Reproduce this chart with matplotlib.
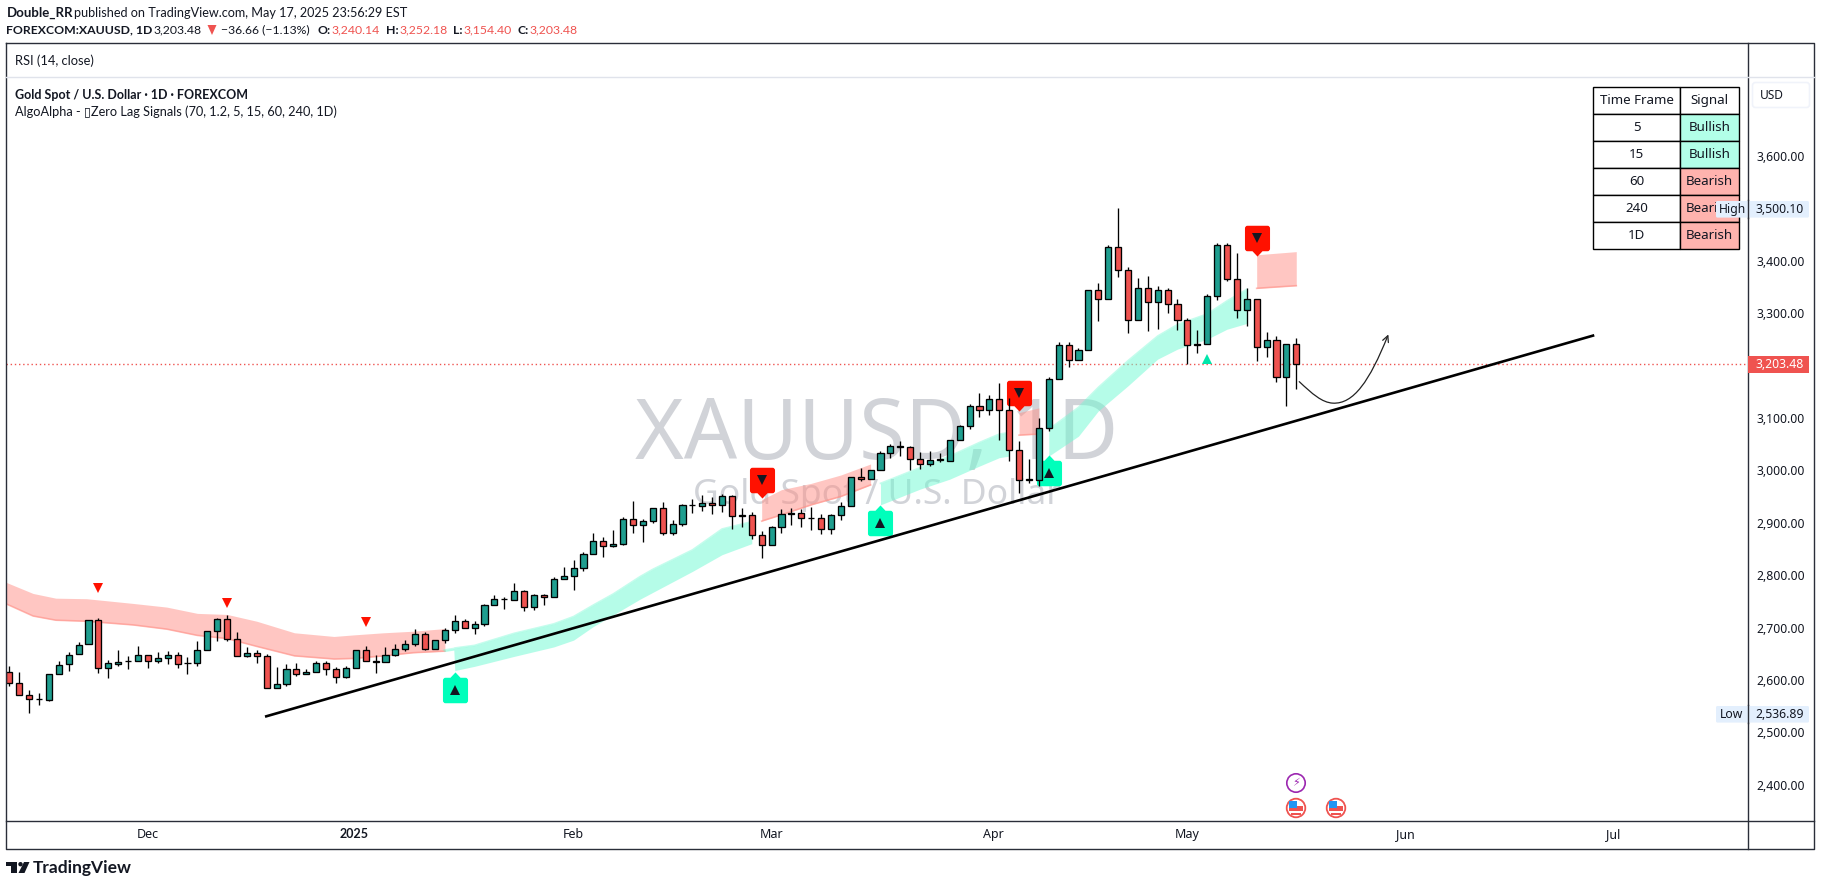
# Gold daily chart, redrawn from a published TradingView screenshot
import matplotlib
matplotlib.use("Agg")
from matplotlib import pyplot as plt
from matplotlib.patches import Rectangle, Circle, FancyBboxPatch, FancyArrowPatch, Polygon
from matplotlib.path import Path

plt.rcParams['font.family'] = ['Noto Sans', 'DejaVu Sans']
HEAD_FONT = ['Lato', 'DejaVu Sans']

###### Candles, trading days in order ######
opens = [2616, 2595, 2571, 2563, 2561, 2611, 2630, 2649, 2668, 2714,
         2622, 2631, 2636, 2636, 2648, 2637, 2641, 2647, 2632, 2632,
         2658, 2693, 2716, 2679, 2645, 2651, 2645, 2584, 2592, 2620,
         2611, 2615, 2632, 2620, 2605, 2622, 2657, 2637, 2634, 2647,
         2660, 2668, 2687, 2660, 2676, 2695, 2712, 2700, 2706, 2743,
         2754, 2752, 2769, 2739, 2762, 2758, 2792, 2798, 2813, 2840,
         2865, 2855, 2859, 2907, 2895, 2903, 2928, 2880, 2897, 2933,
         2931, 2937, 2933, 2951, 2913, 2914, 2876, 2857, 2891, 2917,
         2918, 2909, 2909, 2888, 2914, 2931, 2987, 2983, 3000, 3033,
         3045, 3045, 3022, 3011, 3020, 3018, 3057, 3085, 3123, 3114,
         3135, 3114, 3038, 2982, 2982, 3081, 3175, 3238, 3211, 3230,
         3343, 3327, 3425, 3381, 3287, 3348, 3320, 3343, 3318, 3287,
         3239, 3240, 3333, 3430, 3364, 3306, 3326, 3236, 3249, 3177,
         3240.14]
highs = [2627, 2616, 2581, 2575, 2612, 2637, 2653, 2672, 2715, 2719,
         2639, 2657, 2646, 2664, 2648, 2653, 2655, 2653, 2643, 2674,
         2693, 2719, 2724, 2691, 2662, 2657, 2649, 2625, 2630, 2632,
         2620, 2637, 2636, 2625, 2626, 2658, 2664, 2647, 2662, 2668,
         2676, 2697, 2691, 2677, 2699, 2723, 2716, 2712, 2745, 2762,
         2758, 2785, 2771, 2764, 2764, 2796, 2816, 2828, 2844, 2880,
         2872, 2886, 2910, 2941, 2907, 2928, 2939, 2905, 2935, 2945,
         2952, 2949, 2954, 2952, 2928, 2920, 2884, 2893, 2926, 2928,
         2926, 2930, 2916, 2916, 2939, 2988, 3004, 3001, 3036, 3050,
         3055, 3047, 3034, 3036, 3032, 3058, 3087, 3127, 3148, 3144,
         3167, 3137, 3055, 3022, 3099, 3177, 3245, 3245, 3234, 3343,
         3358, 3430, 3500.10, 3387, 3367, 3371, 3352, 3348, 3327, 3291,
         3268, 3337, 3434, 3434, 3415, 3347, 3326, 3264, 3257, 3240,
         3252.18]
lows = [2589, 2571, 2536.89, 2553, 2560, 2611, 2618, 2649, 2668, 2614,
        2604, 2627, 2620, 2636, 2622, 2633, 2631, 2623, 2612, 2627,
        2658, 2675, 2675, 2645, 2643, 2633, 2584, 2584, 2589, 2608,
        2611, 2615, 2610, 2595, 2603, 2622, 2637, 2614, 2634, 2645,
        2655, 2664, 2657, 2660, 2670, 2689, 2699, 2688, 2702, 2743,
        2736, 2752, 2731, 2734, 2743, 2758, 2792, 2772, 2807, 2840,
        2834, 2853, 2857, 2881, 2864, 2900, 2877, 2877, 2893, 2918,
        2923, 2916, 2921, 2888, 2891, 2868, 2832, 2857, 2881, 2895,
        2891, 2886, 2879, 2879, 2906, 2931, 2979, 2983, 3000, 3023,
        3027, 3001, 3003, 3009, 3015, 3018, 3057, 3078, 3102, 3106,
        3057, 3017, 2957, 2975, 2970, 3074, 3175, 3196, 3211, 3230,
        3285, 3327, 3369, 3262, 3287, 3266, 3270, 3300, 3268, 3203,
        3224, 3240, 3325, 3361, 3291, 3276, 3208, 3216, 3169, 3123,
        3154.40]
closes = [2595, 2571, 2563, 2563.5, 2611, 2629, 2648, 2667, 2714, 2622,
          2632, 2634, 2636.5, 2648, 2637, 2641, 2647, 2630, 2632.5, 2658,
          2693, 2716, 2679, 2645, 2651, 2645, 2584, 2592, 2620, 2611,
          2615, 2632, 2620, 2605, 2622, 2657, 2637, 2634, 2647, 2660,
          2668, 2687, 2660, 2676, 2695, 2712, 2700, 2706, 2743, 2754,
          2755, 2769, 2739, 2762, 2758, 2792, 2798, 2813, 2840, 2865,
          2855, 2859, 2907, 2895, 2903, 2928, 2880, 2897, 2933, 2934,
          2937, 2933, 2951, 2912, 2914, 2876, 2857, 2891, 2916, 2918,
          2909, 2909.5, 2888, 2914, 2931, 2987, 2983, 3000, 3033, 3046,
          3046, 3022, 3011, 3020, 3021, 3057, 3085, 3123, 3114, 3135,
          3114, 3038, 2982, 2983, 3081, 3175, 3238, 3211, 3230, 3343,
          3327, 3425, 3381, 3287, 3348, 3320, 3343, 3318, 3287, 3238,
          3240, 3333, 3430, 3364, 3306, 3326, 3236, 3249, 3177, 3240,
          3203.48]
last_price = 3203.48

###### Zero lag ribbons: bar, upper edge, lower edge ######
red1_bar = [-0.3, 2.4, 4.7, 7.8, 12.5, 15.9, 19, 22, 25, 28.8, 32.8, 34.8, 37.8, 40.8, 44]
red1_top = [2786, 2765, 2756, 2755, 2746, 2739, 2727, 2725, 2712, 2690, 2683, 2686, 2690, 2693, 2698]
red1_bot = [2745, 2722, 2714, 2712, 2705, 2697, 2685, 2679, 2664, 2646, 2640, 2641, 2646, 2652, 2655]
green1_bar = [43.9, 44.9, 45, 47, 51, 55, 57, 59, 61, 63.7, 65, 69, 72, 75]
green1_top = [2657, 2660, 2661, 2666, 2689, 2707, 2721, 2743, 2764, 2797, 2811, 2848, 2888, 2902]
green1_bot = [2654, 2657, 2618, 2626, 2645, 2663, 2676, 2702, 2724, 2754, 2767, 2807, 2839, 2860]
red2_bar = [76, 78, 81, 84, 87]
red2_top = [2944, 2963, 2975, 2991, 3012]
red2_bot = [2903, 2915, 2934, 2950, 2972]
green2_bar = [88, 92, 95, 98, 100, 101]
green2_top = [2975, 3005, 3027, 3053, 3069, 3072]
green2_bot = [2934, 2964, 2983, 3008, 3024, 3027]
red3_bar = [102, 104]
red3_top = [3110, 3119]
red3_bot = [3067, 3069]
green3_bar = [105, 108, 110, 113, 116, 118, 121, 123, 125]
green3_top = [3078, 3120, 3158, 3209, 3256, 3278, 3298, 3323, 3345]
green3_bot = [3027, 3065, 3113, 3161, 3212, 3231, 3250, 3269, 3280]
red4_bar = [126, 130]
red4_top = [3411, 3417]
red4_bot = [3347, 3352]

###### Signals ######
small_down_bars = [9, 22, 36]
small_down_prices = [2776, 2747, 2711]
small_up_bars = [121]
small_up_prices = [3212]
buy_bars = [45, 88, 105]
buy_prices = [2581, 2900, 2994]
sell_bars = [76, 102, 126]
sell_prices = [2982, 3147, 3443]

###### Drawn trend line ######
trend_bars = [25.83, 160.1]
trend_prices = [2530, 3257.5]

###### Axes labels ######
price_ticks = [2400, 2500, 2600, 2700, 2800, 2900, 3000, 3100, 3300, 3400, 3600]
month_bars = [14, 34.8, 57, 77, 99.4, 119, 141, 162]
month_names = ['Dec', '2025', 'Feb', 'Mar', 'Apr', 'May', 'Jun', 'Jul']

###### Signal table ######
table_rows = [['Time Frame', 'Signal'],
              ['5', 'Bullish'],
              ['15', 'Bullish'],
              ['60', 'Bearish'],
              ['240', 'Bearish'],
              ['1D', 'Bearish']]

TEXT = '#131722'
UP = '#1f9e8f'
DOWN = '#ef5350'
LINE = '#2a2e39'
W = 1821
H = 886


def tag_marker(up=True):
    """
    ARGS:
        up : bool, pointer on top when True, else below
    DESCRIPTION:
        Rounded square with a small pointer, for the buy / sell labels
    RETURN:
        matplotlib Path, centred on the square
    """
    s = 1.0 if up else -1.0
    verts = [(-12.5, -10), (-12.5, -12.7), (-10, -12.7), (10, -12.7), (12.5, -12.7), (12.5, -10),
             (12.5, 10), (12.5, 12.7), (10, 12.7), (5, 12.7), (0, 18), (-5, 12.7),
             (-10, 12.7), (-12.5, 12.7), (-12.5, 10), (-12.5, -10)]
    verts = [(x, s * y) for x, y in verts]
    codes = [Path.MOVETO, Path.CURVE3, Path.CURVE3, Path.LINETO, Path.CURVE3, Path.CURVE3,
             Path.LINETO, Path.CURVE3, Path.CURVE3, Path.LINETO, Path.LINETO, Path.LINETO,
             Path.LINETO, Path.CURVE3, Path.CURVE3, Path.CLOSEPOLY]
    return Path(verts, codes)


def draw_candles(ax):
    """
    ARGS:
        ax : main price axes
    DESCRIPTION:
        Wicks and bodies from the four price lists
    RETURN:
        N/A
    """
    bars = list(range(len(opens)))
    bottoms = [min(o, c) for o, c in zip(opens, closes)]
    heights = [abs(o - c) for o, c in zip(opens, closes)]
    colors = [UP if c >= o else DOWN for o, c in zip(opens, closes)]
    ax.vlines(bars, lows, highs, color='black', lw=0.95, zorder=5)
    ax.bar(bars, heights, bottom=bottoms, width=0.62, color=colors,
           edgecolor='black', linewidth=0.95, zorder=6)


def draw_ribbons(ax):
    """
    ARGS:
        ax : main price axes
    DESCRIPTION:
        Red and green bands, with the darker lower edge on the red ones
    RETURN:
        N/A
    """
    reds = [(red1_bar, red1_top, red1_bot), (red2_bar, red2_top, red2_bot),
            (red3_bar, red3_top, red3_bot), (red4_bar, red4_top, red4_bot)]
    greens = [(green1_bar, green1_top, green1_bot), (green2_bar, green2_top, green2_bot),
              (green3_bar, green3_top, green3_bot)]
    for xs, top, bot in reds:
        ax.fill_between(xs, bot, top, color='#ff8f86', alpha=0.5, lw=0, zorder=3)
        ax.plot(xs, bot, color='#ff8f86', alpha=0.6, lw=1.2, zorder=3)
    for xs, top, bot in greens:
        ax.fill_between(xs, bot, top, color='#6dfad2', alpha=0.5, lw=0, zorder=3)
        ax.plot(xs, top, color='#6dfad2', alpha=0.4, lw=1.2, zorder=3)


def draw_signals(ax):
    """
    ARGS:
        ax : main price axes
    DESCRIPTION:
        Buy and sell labels plus the small triangles
    RETURN:
        N/A
    """
    ax.plot(small_down_bars, small_down_prices, ls='', marker='v', ms=7.5, color='#ff1100', mew=0, zorder=7)
    ax.plot(small_up_bars, small_up_prices, ls='', marker='^', ms=7.5, color='#00e6ab', mew=0, zorder=7)
    ax.plot(buy_bars, buy_prices, ls='', marker=tag_marker(True), ms=26, color='#00ffbb', mew=0, zorder=4)
    ax.plot(sell_bars, sell_prices, ls='', marker=tag_marker(False), ms=26, color='#ff1100', mew=0, zorder=4)
    ax.plot(buy_bars, buy_prices, ls='', marker='^', ms=6.5, color='#131722', mew=0, zorder=7)
    ax.plot(sell_bars, sell_prices, ls='', marker='v', ms=6.5, color='#131722', mew=0, zorder=7)


def draw_drawings(ax):
    """
    ARGS:
        ax : main price axes
    DESCRIPTION:
        Trend line, projected arrow and last price line
    RETURN:
        N/A
    """
    ax.plot(trend_bars, trend_prices, color='black', lw=1.9, zorder=8, solid_capstyle='butt')
    ax.axhline(last_price, color=DOWN, lw=1, ls=(0, (1, 2)), zorder=2)
    verts = [(130.3, 3169), (131.6, 3146), (132.6, 3129), (133.7, 3128),
             (135.8, 3126), (137.4, 3170), (139.3, 3259)]
    codes = [Path.MOVETO, Path.CURVE4, Path.CURVE4, Path.CURVE4, Path.CURVE4, Path.CURVE4, Path.CURVE4]
    arrow = FancyArrowPatch(path=Path(verts, codes), arrowstyle='->', mutation_scale=11,
                            lw=0.9, color='#222222', transform=ax.transData, zorder=8)
    ax.add_patch(arrow)


def draw_chrome(ov):
    """
    ARGS:
        ov : overlay axes, in image pixels
    DESCRIPTION:
        Frame, header lines, price tags, table, event icons and logo
    RETURN:
        N/A
    """
    # frame
    ov.plot([6.3, 6.3, 1814.3, 1814.3, 6.3], [43.3, 849, 849, 43.3, 43.3], color=LINE, lw=1)
    ov.plot([6.3, 1814.3], [821, 821], color=LINE, lw=1)
    ov.plot([1748.3, 1748.3], [43.3, 849], color=LINE, lw=1)
    ov.plot([6.3, 1814.3], [77.3, 77.3], color='#e0e3eb', lw=1)

    # header
    ov.text(6.5, 12.5, 'Double_RR', fontsize=9.5, fontweight='bold', family=HEAD_FONT, va='center', color=TEXT)
    ov.text(74.5, 12.5, 'published on TradingView.com, May 17, 2025 23:56:29 EST', fontsize=9.1,
            family=HEAD_FONT, va='center', color=TEXT)
    parts = [(6.5, 'FOREXCOM:XAUUSD, 1D', 'bold', TEXT), (154, '3,203.48', 'normal', TEXT),
             (221, '−36.66 (−1.13%)', 'normal', TEXT), (317, 'O:', 'bold', TEXT),
             (331, '3,240.14', 'normal', DOWN), (386, 'H:', 'bold', TEXT),
             (399, '3,252.18', 'normal', DOWN), (453, 'L:', 'bold', TEXT),
             (464, '3,154.40', 'normal', DOWN), (517, 'C:', 'bold', TEXT),
             (530, '3,203.48', 'normal', DOWN)]
    for x, s, weight, col in parts:
        ov.text(x, 30, s, fontsize=8.8, fontweight=weight, family=HEAD_FONT, va='center', color=col)
    ov.add_patch(Polygon([(207.5, 25), (216.5, 25), (212, 35)], color=DOWN, lw=0))
    ov.text(15, 60.5, 'RSI (14, close)', fontsize=9.3, family=HEAD_FONT, va='center', color=TEXT)
    ov.text(15, 94.5, 'Gold Spot / U.S. Dollar · 1D · FOREXCOM', fontsize=9, fontweight='bold',
            family=HEAD_FONT, va='center', color=TEXT)
    ov.text(15, 111.5, 'AlgoAlpha - ▯Zero Lag Signals (70, 1.2, 5, 15, 60, 240, 1D)', fontsize=9.2,
            family=HEAD_FONT, va='center', color=TEXT)

    # table
    tb = ov.table(cellText=table_rows,
                  cellColours=[['white', 'white']] + [['white', '#b2ffe8']] * 2 + [['white', '#ffb3ae']] * 3,
                  cellLoc='center', colWidths=[87, 58.4],
                  bbox=[1593.3 / W, 1 - 249.3 / H, 145.4 / W, 162 / H])
    tb.auto_set_font_size(False)
    tb.set_fontsize(9.6)
    for cell in tb.get_celld().values():
        cell.set_edgecolor('black')
        cell.set_linewidth(1)
        cell.get_text().set_color(TEXT)
    tb.set_zorder(3)

    # price scale tags
    ov.add_patch(FancyBboxPatch((1752.5, 82.5), 57, 25, boxstyle='round,pad=0,rounding_size=3',
                                fc='white', ec='#f0f3fa', lw=1.2))
    ov.text(1771.5, 95, 'USD', fontsize=8.6, ha='center', va='center', color=TEXT)
    for yc, label, value in [(209.3, 'High', '3,500.10'), (714.3, 'Low', '2,536.89')]:
        ov.add_patch(FancyBboxPatch((1716, yc - 8.3), 93, 16.6, boxstyle='round,pad=0,rounding_size=1.5',
                                    fc='#e3effd', ec='none', zorder=4))
        ov.text(1732, yc, label, fontsize=8.8, ha='center', va='center', color=TEXT, zorder=5)
        ov.text(1780, yc, value, fontsize=8.8, ha='center', va='center', color=TEXT, zorder=5)
    ov.plot([1748.3, 1748.3], [200, 218], color=LINE, lw=1, zorder=5)
    ov.plot([1748.3, 1748.3], [705, 723], color=LINE, lw=1, zorder=5)
    ov.add_patch(Rectangle((1748.3, 356), 60.7, 16.7, fc=DOWN, ec='none', zorder=4))
    ov.text(1780, 364.3, '3,203.48', fontsize=8.8, ha='center', va='center', color='white', zorder=5)

    # event icons
    ov.add_patch(Circle((1296, 783), 9.2, fc='white', ec='#9c27b0', lw=1.2))
    ov.text(1296, 783, '⚡', fontsize=8, family='DejaVu Sans', ha='center', va='center', color='#9c27b0')
    for xc in [1296, 1336]:
        ov.add_patch(Circle((xc, 808), 9.3, fc='white', ec=DOWN, lw=1.3))
        ov.add_patch(Rectangle((xc - 6.7, 806), 13.4, 4.5, fc=DOWN, ec='none'))
        ov.add_patch(Rectangle((xc - 5, 813), 10, 2, fc=DOWN, ec='none'))
        ov.add_patch(Rectangle((xc - 6.7, 801), 7.7, 7, fc='#2196f3', ec='none'))

    # logo
    ov.add_patch(Rectangle((6, 862), 11, 4, fc=TEXT, ec='none'))
    ov.add_patch(Rectangle((11, 862), 5.5, 11, fc=TEXT, ec='none'))
    ov.add_patch(Circle((20.5, 864.2), 2.2, fc=TEXT, ec='none'))
    ov.add_patch(Polygon([(24, 862), (29.5, 862), (24.5, 873), (18.5, 873)], fc=TEXT, ec='none'))
    ov.text(33, 867.5, 'TradingView', fontsize=12.5, fontweight='bold', family=HEAD_FONT, va='center', color=TEXT)


def main():
    """
    ARGS:
        None.
    DESCRIPTION:
        Driver function. Draws everything and writes out.png
    RETURN:
    """
    fig = plt.figure(figsize=(W / 100, H / 100), dpi=100, facecolor='white')
    ax = fig.add_axes([6.3 / W, 1 - 821 / H, (1748.3 - 6.3) / W, (821 - 77.3) / H])
    ax.set_xlim(-0.303, 175.66)
    ax.set_ylim(2331, 3749.5)
    for side in ax.spines.values():
        side.set_visible(False)

    # watermark sits under everything
    ax.text(87.6, 3063, 'XAUUSD, 1D', fontsize=60, ha='center', va='center', color='#d1d3d8', zorder=1)
    ax.text(87.6, 2953, 'Gold Spot / U.S. Dollar', fontsize=25.5, ha='center', va='center', color='#d1d3d8', zorder=1)

    draw_ribbons(ax)
    draw_signals(ax)
    draw_candles(ax)
    draw_drawings(ax)

    ax.yaxis.tick_right()
    ax.set_yticks(price_ticks, ['{:,.2f}'.format(p) for p in price_ticks])
    ax.tick_params(axis='y', length=0, pad=23, labelsize=8.8, labelcolor=TEXT)
    for lab in ax.get_yticklabels():
        lab.set_ha('center')
    ax.set_xticks(month_bars, month_names)
    ax.tick_params(axis='x', length=0, pad=5, labelsize=9, labelcolor=TEXT)
    year_label = ax.get_xticklabels()[1]
    year_label.set_family(HEAD_FONT)
    year_label.set_fontweight('bold')

    ov = fig.add_axes([0, 0, 1, 1], facecolor='none')
    ov.set_xlim(0, W)
    ov.set_ylim(H, 0)
    ov.axis('off')
    draw_chrome(ov)

    fig.savefig('out.png', dpi=100)


if __name__ == "__main__":
    main()
